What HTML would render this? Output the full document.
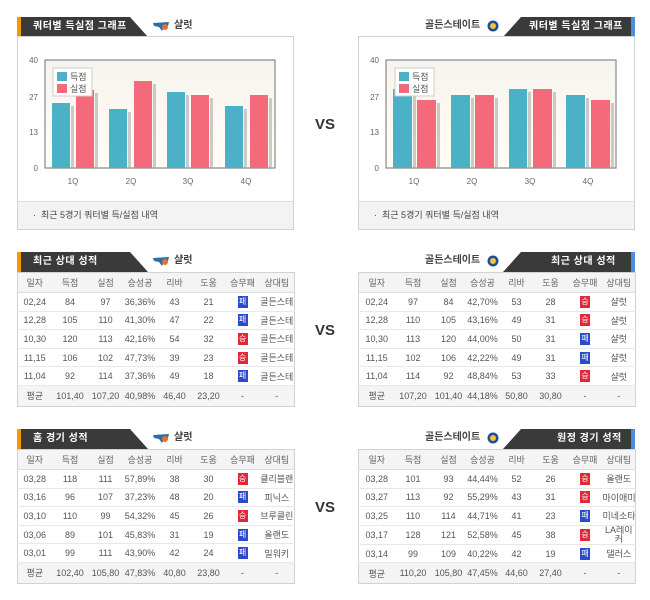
<!DOCTYPE html>
<html><head><meta charset="utf-8"><style>
*{margin:0;padding:0;box-sizing:border-box}
body{width:650px;height:600px;background:#fff;position:relative;overflow:hidden;font-family:"Liberation Sans","Noto Sans CJK KR",sans-serif;color:#555}
.abs{position:absolute}
.hd{position:absolute;height:20px}
.hd svg{position:absolute;left:0;top:0}
.ht{position:absolute;top:0;line-height:20px;color:#fff;font-weight:bold;font-size:10px;letter-spacing:0.5px}
.tn{position:absolute;font-size:10px;font-weight:bold;color:#444;line-height:20px}
.box{position:absolute;border:1px solid #d2d2d2;background:#fff}
.foot{position:absolute;left:0;right:0;bottom:0;height:28px;background:#f3f3f3;border-top:1px solid #ddd;font-size:9px;line-height:27px;padding-left:15px;color:#444}
table{position:absolute;border-collapse:collapse;font-size:9px;color:#555;table-layout:fixed;border:1px solid #d2d2d2}
td{text-align:center;border-bottom:1px solid #e8e8e8;padding:0;white-space:nowrap;overflow:hidden}
tr.h td{background:#f4f4f4;color:#666;height:20px;border-bottom:1px solid #ddd}
tr.r td{height:18.6px}
tr.a td{background:#f4f4f4;height:21px;border-bottom:none}
.w,.l{display:inline-block;width:10px;height:12px;line-height:12px;font-size:8px;color:#fff;vertical-align:middle}
.w{background:#e0283a}.l{background:#2c4bcc}
.vs{position:absolute;font-size:15px;font-weight:bold;color:#333;width:40px;text-align:center}
</style></head><body>

<div class="hd" style="left:17px;top:17px;width:131px">
<svg width="131" height="20"><polygon points="0,0 113,0 131,20 0,20" fill="#3a3a3a"/><rect x="0" y="0" width="4" height="20" fill="#f29a00"/></svg>
<div class="ht" style="left:16px">쿼터별 득실점 그래프</div></div>
<svg class="abs" style="left:153px;top:21px" width="18" height="11"><path d="M0,2 L16,1 L15,5 L11,6 L9,10 L6,6 L1,5Z" fill="#2a6fa8"/><circle cx="12" cy="6" r="3" fill="#e8702a"/></svg>
<div class="tn" style="left:174px;top:16px">샬럿</div>
<div class="box" style="left:17px;top:36px;width:277px;height:194px"><div class="foot">·&nbsp; 최근 5경기 쿼터별 득/실점 내역</div></div>

<svg class="abs" style="left:0;top:0" width="300" height="200" font-family="Liberation Sans,sans-serif" font-size="8" fill="#666">
<defs><linearGradient id="g" x1="0" x2="0" y1="0" y2="1"><stop offset="0" stop-color="#f6f4ee"/><stop offset="1" stop-color="#fffdf4"/></linearGradient></defs>
<rect x="45" y="60" width="230" height="108" fill="url(#g)" stroke="#888" stroke-width="1.2"/>
<g fill="#666" text-anchor="end"><text x="38" y="63">40</text><text x="38" y="100">27</text><text x="38" y="135">13</text><text x="38" y="171">0</text></g>
<g fill="#aaa" opacity=".6"><rect x="71" y="106" width="3" height="62"/><rect x="95" y="93" width="3" height="75"/><rect x="128" y="112" width="3" height="56"/><rect x="153" y="84" width="3" height="84"/><rect x="186" y="95" width="3" height="73"/><rect x="210" y="98" width="3" height="70"/><rect x="244" y="109" width="3" height="59"/><rect x="269" y="98" width="3" height="70"/></g>
<rect x="52" y="103" width="18" height="65" fill="#4ab1c7"/><rect x="76" y="90" width="18" height="78" fill="#f46a7a"/>
<rect x="109" y="109" width="18" height="59" fill="#4ab1c7"/><rect x="134" y="81" width="18" height="87" fill="#f46a7a"/>
<rect x="167" y="92" width="18" height="76" fill="#4ab1c7"/><rect x="191" y="95" width="18" height="73" fill="#f46a7a"/>
<rect x="225" y="106" width="18" height="62" fill="#4ab1c7"/><rect x="250" y="95" width="18" height="73" fill="#f46a7a"/>
<rect x="53" y="68" width="39" height="28" fill="#fff" stroke="#ccc"/>
<rect x="57" y="72" width="10" height="9" fill="#4ab1c7"/><rect x="57" y="84" width="10" height="9" fill="#f46a7a"/>
<g font-family="Liberation Sans,Noto Sans CJK KR,sans-serif" fill="#555" font-size="9"><text x="70" y="80">득점</text><text x="70" y="92">실점</text></g>
<g text-anchor="middle"><text x="73" y="184">1Q</text><text x="131" y="184">2Q</text><text x="188" y="184">3Q</text><text x="246" y="184">4Q</text></g>
</svg>

<div class="tn" style="left:425px;top:16px">골든스테이트</div>
<svg class="abs" style="left:487px;top:20px" width="12" height="12"><circle cx="6" cy="6" r="5.5" fill="#1d4f9a"/><circle cx="6" cy="6" r="3" fill="#f6c23a"/></svg>
<div class="hd" style="left:503px;top:17px;width:132px">
<svg width="132" height="20"><polygon points="18,0 132,0 132,20 0,20" fill="#3a3a3a"/><rect x="128" y="0" width="4" height="20" fill="#4a8fe0"/></svg>
<div class="ht" style="left:26px">쿼터별 득실점 그래프</div></div>
<div class="box" style="left:358px;top:36px;width:277px;height:194px"><div class="foot">·&nbsp; 최근 5경기 쿼터별 득/실점 내역</div></div>

<svg class="abs" style="left:0;top:0" width="650" height="200" font-family="Liberation Sans,sans-serif" font-size="8" fill="#666">
<rect x="386" y="60" width="230" height="108" fill="url(#g)" stroke="#888" stroke-width="1.2"/>
<g fill="#666" text-anchor="end"><text x="379" y="63">40</text><text x="379" y="100">27</text><text x="379" y="135">13</text><text x="379" y="171">0</text></g>
<g fill="#aaa" opacity=".6"><rect x="413" y="92" width="3" height="76"/><rect x="437" y="103" width="3" height="65"/><rect x="471" y="98" width="3" height="70"/><rect x="495" y="98" width="3" height="70"/><rect x="528" y="92" width="3" height="76"/><rect x="553" y="92" width="3" height="76"/><rect x="586" y="98" width="3" height="70"/><rect x="611" y="103" width="3" height="65"/></g>
<rect x="393" y="89" width="19" height="79" fill="#4ab1c7"/><rect x="417" y="100" width="19" height="68" fill="#f46a7a"/>
<rect x="451" y="95" width="19" height="73" fill="#4ab1c7"/><rect x="475" y="95" width="19" height="73" fill="#f46a7a"/>
<rect x="509" y="89" width="18" height="79" fill="#4ab1c7"/><rect x="533" y="89" width="19" height="79" fill="#f46a7a"/>
<rect x="566" y="95" width="19" height="73" fill="#4ab1c7"/><rect x="591" y="100" width="19" height="68" fill="#f46a7a"/>
<rect x="395" y="68" width="39" height="28" fill="#fff" stroke="#ccc"/>
<rect x="399" y="72" width="10" height="9" fill="#4ab1c7"/><rect x="399" y="84" width="10" height="9" fill="#f46a7a"/>
<g font-family="Liberation Sans,Noto Sans CJK KR,sans-serif" fill="#555" font-size="9"><text x="412" y="80">득점</text><text x="412" y="92">실점</text></g>
<g text-anchor="middle"><text x="414" y="184">1Q</text><text x="472" y="184">2Q</text><text x="530" y="184">3Q</text><text x="588" y="184">4Q</text></g>
</svg>

<div class="vs" style="left:305px;top:116px">VS</div>
<div class="vs" style="left:305px;top:322px">VS</div>
<div class="vs" style="left:305px;top:499px">VS</div>

<div class="hd" style="left:17px;top:252px;width:131px">
<svg width="131" height="20"><polygon points="0,0 113,0 131,20 0,20" fill="#3a3a3a"/><rect x="0" y="0" width="4" height="20" fill="#f29a00"/></svg>
<div class="ht" style="left:16px">최근 상대 성적</div></div>
<svg class="abs" style="left:153px;top:256px" width="18" height="11"><path d="M0,2 L16,1 L15,5 L11,6 L9,10 L6,6 L1,5Z" fill="#2a6fa8"/><circle cx="12" cy="6" r="3" fill="#e8702a"/></svg>
<div class="tn" style="left:174px;top:251px">샬럿</div>
<table style="left:17px;top:272px;width:277px">
<colgroup><col style="width:34px"><col style="width:37px"><col style="width:34px"><col style="width:35px"><col style="width:34px"><col style="width:34px"><col style="width:34px"><col style="width:35px"></colgroup>
<tr class="h"><td>일자</td><td>득점</td><td>실점</td><td>승성공</td><td>리바</td><td>도움</td><td>승무패</td><td>상대팀</td></tr>
<tr class="r"><td>02,24</td><td>84</td><td>97</td><td>36,36%</td><td>43</td><td>21</td><td><span class="l">패</span></td><td>골든스테</td></tr>
<tr class="r"><td>12,28</td><td>105</td><td>110</td><td>41,30%</td><td>47</td><td>22</td><td><span class="l">패</span></td><td>골든스테</td></tr>
<tr class="r"><td>10,30</td><td>120</td><td>113</td><td>42,16%</td><td>54</td><td>32</td><td><span class="w">승</span></td><td>골든스테</td></tr>
<tr class="r"><td>11,15</td><td>106</td><td>102</td><td>47,73%</td><td>39</td><td>23</td><td><span class="w">승</span></td><td>골든스테</td></tr>
<tr class="r"><td>11,04</td><td>92</td><td>114</td><td>37,36%</td><td>49</td><td>18</td><td><span class="l">패</span></td><td>골든스테</td></tr>
<tr class="a"><td>평균</td><td>101,40</td><td>107,20</td><td>40,98%</td><td>46,40</td><td>23,20</td><td>-</td><td>-</td></tr>
</table>

<div class="tn" style="left:425px;top:251px">골든스테이트</div>
<svg class="abs" style="left:487px;top:255px" width="12" height="12"><circle cx="6" cy="6" r="5.5" fill="#1d4f9a"/><circle cx="6" cy="6" r="3" fill="#f6c23a"/></svg>
<div class="hd" style="left:503px;top:252px;width:132px">
<svg width="132" height="20"><polygon points="18,0 132,0 132,20 0,20" fill="#3a3a3a"/><rect x="128" y="0" width="4" height="20" fill="#4a8fe0"/></svg>
<div class="ht" style="left:48px">최근 상대 성적</div></div>
<table style="left:358px;top:272px;width:277px">
<colgroup><col style="width:36px"><col style="width:37px"><col style="width:34px"><col style="width:34px"><col style="width:34px"><col style="width:34px"><col style="width:35px"><col style="width:33px"></colgroup>
<tr class="h"><td>일자</td><td>득점</td><td>실점</td><td>승성공</td><td>리바</td><td>도움</td><td>승무패</td><td>상대팀</td></tr>
<tr class="r"><td>02,24</td><td>97</td><td>84</td><td>42,70%</td><td>53</td><td>28</td><td><span class="w">승</span></td><td>샬럿</td></tr>
<tr class="r"><td>12,28</td><td>110</td><td>105</td><td>43,16%</td><td>49</td><td>31</td><td><span class="w">승</span></td><td>샬럿</td></tr>
<tr class="r"><td>10,30</td><td>113</td><td>120</td><td>44,00%</td><td>50</td><td>31</td><td><span class="l">패</span></td><td>샬럿</td></tr>
<tr class="r"><td>11,15</td><td>102</td><td>106</td><td>42,22%</td><td>49</td><td>31</td><td><span class="l">패</span></td><td>샬럿</td></tr>
<tr class="r"><td>11,04</td><td>114</td><td>92</td><td>48,84%</td><td>53</td><td>33</td><td><span class="w">승</span></td><td>샬럿</td></tr>
<tr class="a"><td>평균</td><td>107,20</td><td>101,40</td><td>44,18%</td><td>50,80</td><td>30,80</td><td>-</td><td>-</td></tr>
</table>

<div class="hd" style="left:17px;top:429px;width:131px">
<svg width="131" height="20"><polygon points="0,0 113,0 131,20 0,20" fill="#3a3a3a"/><rect x="0" y="0" width="4" height="20" fill="#f29a00"/></svg>
<div class="ht" style="left:16px">홈 경기 성적</div></div>
<svg class="abs" style="left:153px;top:433px" width="18" height="11"><path d="M0,2 L16,1 L15,5 L11,6 L9,10 L6,6 L1,5Z" fill="#2a6fa8"/><circle cx="12" cy="6" r="3" fill="#e8702a"/></svg>
<div class="tn" style="left:174px;top:428px">샬럿</div>
<table style="left:17px;top:449px;width:277px">
<colgroup><col style="width:34px"><col style="width:37px"><col style="width:34px"><col style="width:35px"><col style="width:34px"><col style="width:34px"><col style="width:34px"><col style="width:35px"></colgroup>
<tr class="h"><td>일자</td><td>득점</td><td>실점</td><td>승성공</td><td>리바</td><td>도움</td><td>승무패</td><td>상대팀</td></tr>
<tr class="r"><td>03,28</td><td>118</td><td>111</td><td>57,89%</td><td>38</td><td>30</td><td><span class="w">승</span></td><td>클리블랜</td></tr>
<tr class="r"><td>03,16</td><td>96</td><td>107</td><td>37,23%</td><td>48</td><td>20</td><td><span class="l">패</span></td><td>피닉스</td></tr>
<tr class="r"><td>03,10</td><td>110</td><td>99</td><td>54,32%</td><td>45</td><td>26</td><td><span class="w">승</span></td><td>브루클린</td></tr>
<tr class="r"><td>03,06</td><td>89</td><td>101</td><td>45,83%</td><td>31</td><td>19</td><td><span class="l">패</span></td><td>올랜도</td></tr>
<tr class="r"><td>03,01</td><td>99</td><td>111</td><td>43,90%</td><td>42</td><td>24</td><td><span class="l">패</span></td><td>밀워키</td></tr>
<tr class="a"><td>평균</td><td>102,40</td><td>105,80</td><td>47,83%</td><td>40,80</td><td>23,80</td><td>-</td><td>-</td></tr>
</table>

<div class="tn" style="left:425px;top:428px">골든스테이트</div>
<svg class="abs" style="left:487px;top:432px" width="12" height="12"><circle cx="6" cy="6" r="5.5" fill="#1d4f9a"/><circle cx="6" cy="6" r="3" fill="#f6c23a"/></svg>
<div class="hd" style="left:503px;top:429px;width:132px">
<svg width="132" height="20"><polygon points="18,0 132,0 132,20 0,20" fill="#3a3a3a"/><rect x="128" y="0" width="4" height="20" fill="#4a8fe0"/></svg>
<div class="ht" style="left:54px">원정 경기 성적</div></div>
<table style="left:358px;top:449px;width:277px">
<colgroup><col style="width:36px"><col style="width:37px"><col style="width:34px"><col style="width:34px"><col style="width:34px"><col style="width:34px"><col style="width:35px"><col style="width:33px"></colgroup>
<tr class="h"><td>일자</td><td>득점</td><td>실점</td><td>승성공</td><td>리바</td><td>도움</td><td>승무패</td><td>상대팀</td></tr>
<tr class="r"><td>03,28</td><td>101</td><td>93</td><td>44,44%</td><td>52</td><td>26</td><td><span class="w">승</span></td><td>올랜도</td></tr>
<tr class="r"><td>03,27</td><td>113</td><td>92</td><td>55,29%</td><td>43</td><td>31</td><td><span class="w">승</span></td><td>마이애미</td></tr>
<tr class="r"><td>03,25</td><td>110</td><td>114</td><td>44,71%</td><td>41</td><td>23</td><td><span class="l">패</span></td><td>미네소타</td></tr>
<tr class="r"><td>03,17</td><td>128</td><td>121</td><td>52,58%</td><td>45</td><td>38</td><td><span class="w">승</span></td><td style="white-space:normal;line-height:9px">LA레이<br>커</td></tr>
<tr class="r"><td>03,14</td><td>99</td><td>109</td><td>40,22%</td><td>42</td><td>19</td><td><span class="l">패</span></td><td>댈러스</td></tr>
<tr class="a"><td>평균</td><td>110,20</td><td>105,80</td><td>47,45%</td><td>44,60</td><td>27,40</td><td>-</td><td>-</td></tr>
</table>

</body></html>
